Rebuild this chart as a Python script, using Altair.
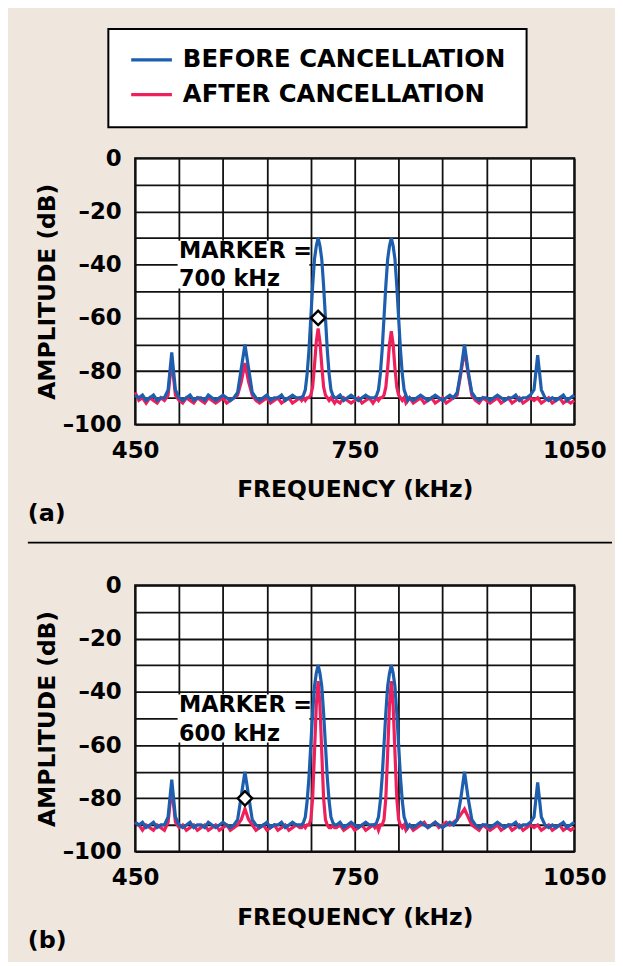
import altair as alt
import numpy as np
import pandas as pd

BEFORE = "BEFORE CANCELLATION"
AFTER = "AFTER CANCELLATION"
BLUE = "#1d5fae"
RED = "#ef1f5b"
BG = "#efe6de"
FONT = "DejaVu Sans"

# frequency sampling (kHz): 5 kHz steps, 2.5 kHz around the two main tones
freq = np.concatenate([
    np.arange(450, 676, 5), np.arange(677.5, 723, 2.5), np.arange(725, 776, 5),
    np.arange(777.5, 823, 2.5), np.arange(825, 1051, 5)]).tolist()

before = [
    -89, -90, -89, -91, -90, -89, -91, -90, -90, -87, -73, -87, -90, -91, -90, -89, -91, -90, -90, -91,
    -89, -90, -91, -90, -89, -90, -91, -90, -88, -79, -70, -79, -88, -90, -91, -90, -89, -91, -90, -90,
    -89, -91, -90, -89, -90, -90,
    -90, -89, -87, -81, -72, -60, -48, -38, -33, -30, -33, -38, -48, -60, -72, -81, -87, -89, -90,
    -90, -89, -91, -90, -89, -90, -91, -90, -89, -90, -90,
    -90, -89, -87, -81, -72, -60, -48, -38, -33, -30, -33, -38, -48, -60, -72, -81, -87, -89, -91,
    -90, -91, -90, -89, -90, -91, -90, -89, -90, -91, -90, -89, -90, -88, -80, -70, -80, -88, -90, -91,
    -90, -90, -91, -90, -89, -90, -91, -90, -90, -89, -91, -90, -90, -89, -87, -74, -87, -90, -91, -90,
    -91, -90, -89, -91, -90, -89]

after_a = [
    -88, -91, -90, -92, -90, -91, -92, -90, -91, -89, -76, -89, -91, -92, -90, -91, -92, -90, -91, -92,
    -90, -91, -92, -91, -90, -92, -91, -90, -89, -84, -77, -84, -89, -91, -92, -91, -90, -92, -91, -90,
    -92, -91, -90, -92, -91, -90,
    -91, -90, -91, -90, -90, -89, -86, -78, -69, -64, -69, -78, -86, -89, -90, -91, -90, -91, -92,
    -91, -92, -90, -91, -92, -91, -90, -92, -91, -90, -92,
    -91, -90, -91, -90, -90, -89, -86, -79, -70, -65, -70, -79, -86, -89, -90, -91, -90, -92, -91,
    -90, -92, -91, -90, -92, -91, -90, -92, -91, -90, -92, -91, -90, -89, -81, -72, -81, -89, -91, -92,
    -90, -91, -92, -91, -90, -92, -91, -90, -92, -91, -90, -92, -91, -90, -91, -90, -92, -91, -90, -92,
    -91, -90, -92, -91, -92, -91]

after_b = [
    -89, -90, -92, -90, -91, -92, -90, -91, -92, -89, -76, -89, -91, -90, -92, -91, -90, -92, -91, -90,
    -92, -91, -90, -92, -91, -90, -92, -91, -90, -88, -84, -88, -90, -92, -91, -90, -92, -91, -90, -92,
    -91, -90, -92, -91, -90, -91,
    -91, -90, -91, -90, -90, -88, -80, -63, -45, -36, -45, -63, -80, -88, -90, -91, -91, -90, -91,
    -91, -90, -92, -91, -90, -92, -91, -90, -92, -91, -90,
    -91, -90, -92, -90, -90, -88, -80, -63, -45, -36, -45, -63, -80, -88, -90, -91, -90, -92, -91,
    -90, -92, -91, -90, -89, -91, -90, -89, -91, -90, -89, -90, -89, -88, -86, -84, -87, -90, -91, -92,
    -90, -91, -92, -91, -90, -92, -91, -90, -92, -91, -90, -92, -91, -90, -91, -90, -92, -91, -90, -92,
    -91, -90, -92, -91, -92, -91]

assert len(freq) == len(before) == len(after_a) == len(after_b)

marker_a = {"freq": [700], "db": [-60]}
marker_b = {"freq": [600], "db": [-80]}
note_a = {"freq": [510, 510], "db": [-35, -45.5], "text": ["MARKER =", "700 kHz"]}
note_b = {"freq": [510, 510], "db": [-45, -56], "text": ["MARKER =", "600 kHz"]}
box_a = {"freq": [508], "freq2": [688], "db": [-31], "db2": [-49]}
box_b = {"freq": [508], "freq2": [688], "db": [-41], "db2": [-59]}

x_grid = list(range(450, 1051, 60))
y_grid = list(range(-100, 1, 10))

W, H = 442, 268

common_axis = dict(
    grid=True, ticks=False, tickSize=0, domain=False,
    labelFont=FONT, labelFontSize=23, labelFontWeight="bold", labelColor="black",
    titleFont=FONT, titleFontSize=23.5, titleFontWeight="bold", titleColor="black",
    gridColor="#111111", gridWidth=1.8, gridOpacity=1, labelOverlap=False)

x_axis = alt.Axis(values=x_grid, format="d", labelFlush=False,
                  labelExpr="datum.value % 300 == 150 ? datum.label : ''",
                  labelPadding=15, titlePadding=16, **common_axis)
y_axis = alt.Axis(values=y_grid,
                  labelExpr="datum.value % 20 == 0 ? (datum.value < 0 ? '\u2013' + abs(datum.value) : '0') : ''",
                  labelPadding=14, titlePadding=3, **common_axis)

xscale = alt.Scale(domain=[450, 1050], nice=False, zero=False)
yscale = alt.Scale(domain=[-100, 0], nice=False, zero=False)
cscale = alt.Scale(domain=[BEFORE, AFTER], range=[BLUE, RED])


def X(field="freq"):
    return alt.X(f"{field}:Q", scale=xscale, axis=x_axis, title="FREQUENCY (kHz)")


def Y(field="db"):
    return alt.Y(f"{field}:Q", scale=yscale, axis=y_axis, title="AMPLITUDE (dB)")


legend_a = alt.Legend(
    title=None, orient="none", legendX=-27, legendY=-130, direction="vertical",
    symbolType="stroke", symbolSize=1681, symbolStrokeWidth=3.2, clipHeight=20, rowPadding=10,
    labelFont=FONT, labelFontSize=24.5, labelFontWeight="bold", labelColor="black",
    labelLimit=600, labelOffset=9, padding=21, fillColor="white", strokeColor="black")


def panel(after_vals, marker, note, box, legend, label, separator):
    df_before = pd.DataFrame({"freq": freq, "db": before, "series": BEFORE})
    df_after = pd.DataFrame({"freq": freq, "db": after_vals, "series": AFTER})
    col = alt.Color("series:N", scale=cscale, legend=legend)

    box_layer = alt.Chart(pd.DataFrame(box)).mark_rect(color="white").encode(
        x=X(), x2="freq2:Q", y=Y(), y2="db2:Q")
    after_layer = alt.Chart(df_after).mark_line(strokeWidth=3.2).encode(
        x=X(), y=Y(), color=col)
    before_layer = alt.Chart(df_before).mark_line(strokeWidth=3.2).encode(
        x=X(), y=Y(), color=col)
    marker_layer = alt.Chart(pd.DataFrame(marker)).mark_point(
        shape="diamond", filled=True, fill="white", stroke="black", strokeWidth=2.5,
        size=210, opacity=1).encode(x=X(), y=Y())
    text_layer = alt.Chart(pd.DataFrame(note)).mark_text(
        align="left", baseline="middle", font=FONT, fontSize=22.5, fontWeight="bold",
        color="black").encode(x=X(), y=Y(), text="text:N")
    layers = [box_layer, after_layer, before_layer, marker_layer, text_layer]
    if separator:
        # horizontal divider drawn above panel (b)
        layers.append(alt.Chart(pd.DataFrame({"k": [0]})).mark_rule(
            color="black", strokeWidth=2).encode(
            x=alt.value(-108), x2=alt.value(480), y=alt.value(-43)))
    return alt.layer(*layers).properties(
        width=W, height=H,
        title=alt.TitleParams(text=label, orient="bottom", anchor="start", frame="group",
                              dx=-108, offset=1,
                              font=FONT, fontSize=24, fontWeight="bold", color="black"))


pa = panel(after_a, marker_a, note_a, box_a, legend_a, "(a)", False)
pb = panel(after_b, marker_b, note_b, box_b, None, "(b)", True)

chart = alt.vconcat(pa, pb, spacing=13).resolve_legend(color="independent").properties(
    background=BG, padding={"left": 18, "top": 16, "right": 1, "bottom": 4}
).configure_view(stroke="black", strokeWidth=2, fill="white").configure_legend(strokeWidth=2)

chart.save("out.html", embed_options={"renderer": "svg", "actions": False})
